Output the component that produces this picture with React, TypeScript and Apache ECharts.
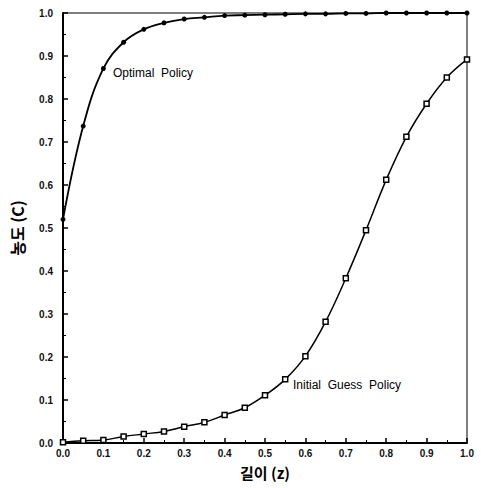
import React, { useEffect, useRef } from "react";
import * as echarts from "echarts";

const zValues = [0, 0.05, 0.1, 0.15, 0.2, 0.25, 0.3, 0.35, 0.4, 0.45, 0.5, 0.55, 0.6, 0.65, 0.7, 0.75, 0.8, 0.85, 0.9, 0.95, 1.0];
const optimalPolicy = [0.52, 0.737, 0.871, 0.932, 0.962, 0.977, 0.986, 0.99, 0.994, 0.995, 0.996, 0.997, 0.998, 0.998, 0.999, 0.999, 1.0, 1.0, 1.0, 1.0, 1.0];
const initialGuessPolicy = [0.002, 0.005, 0.007, 0.015, 0.021, 0.027, 0.038, 0.048, 0.065, 0.082, 0.111, 0.148, 0.202, 0.282, 0.383, 0.495, 0.612, 0.712, 0.789, 0.85, 0.892];
const xTitle = "길이 (z)";
const yTitle = "농도 (C)";
const optimalLabel = "Optimal  Policy";
const initialLabel = "Initial  Guess  Policy";

export default function App() {
  const ref = useRef<HTMLDivElement>(null);
  useEffect(() => {
    if (!ref.current) return;
    const chart = echarts.init(ref.current, null, { renderer: "svg" });
    const font = "Liberation Sans, Arial, sans-serif";
    const axisCommon = {
      type: "value" as const,
      min: 0,
      max: 1,
      interval: 0.1,
      axisLine: { show: true, onZero: false, lineStyle: { color: "#000", width: 2 } },
      axisTick: { show: true, inside: true, length: 5, lineStyle: { color: "#000", width: 1.5 } },
      minorTick: { show: true, splitNumber: 2, length: 3, lineStyle: { color: "#000", width: 1 } },
      splitLine: { show: false },
      axisLabel: {
        color: "#111",
        fontFamily: font,
        fontSize: 10,
        fontWeight: "bold" as const,
        formatter: (v: number) => v.toFixed(1),
      },
    };
    chart.setOption({
      animation: false,
      backgroundColor: "#fff",
      grid: {
        left: 63,
        right: 14,
        top: 13,
        bottom: 45,
        show: true,
        borderColor: "#000",
        borderWidth: 1,
        containLabel: false,
      },
      xAxis: {
        ...axisCommon,
        axisLabel: { ...axisCommon.axisLabel, margin: 5 },
        name: xTitle,
        nameLocation: "middle",
        nameGap: 22,
        nameTextStyle: { color: "#000", fontSize: 15, fontWeight: "bold", fontFamily: "Noto Sans CJK KR, sans-serif" },
      },
      yAxis: {
        ...axisCommon,
        axisLabel: { ...axisCommon.axisLabel, margin: 10 },
        name: yTitle,
        nameLocation: "middle",
        nameGap: 38,
        nameRotate: 90,
        nameTextStyle: { color: "#000", fontSize: 16, fontWeight: "bold", fontFamily: "Noto Sans CJK KR, sans-serif" },
      },
      series: [
        {
          name: "Optimal Policy",
          type: "line",
          smooth: 0.4,
          data: zValues.map((z, i) => [z, optimalPolicy[i]]),
          symbol: "circle",
          symbolSize: 5,
          itemStyle: { color: "#000" },
          lineStyle: { color: "#000", width: 1.8 },
        },
        {
          name: "Initial Guess Policy",
          type: "line",
          smooth: 0.4,
          data: zValues.map((z, i) => [z, initialGuessPolicy[i]]),
          symbol: "rect",
          symbolSize: 5,
          itemStyle: { color: "#fff", borderColor: "#000", borderWidth: 1.5 },
          lineStyle: { color: "#000", width: 1.5 },
        },
      ],
      graphic: [
        {
          type: "text",
          left: 113,
          top: 67,
          style: { text: optimalLabel, fill: "#000", fontSize: 12, fontFamily: font },
        },
        {
          type: "text",
          left: 293,
          top: 379,
          style: { text: initialLabel, fill: "#000", fontSize: 12, fontFamily: font },
        },
      ],
    });
    return () => chart.dispose();
  }, []);
  return <div ref={ref} style={{ width: 481, height: 488, position: "absolute", left: 0, top: 0 }} />;
}
